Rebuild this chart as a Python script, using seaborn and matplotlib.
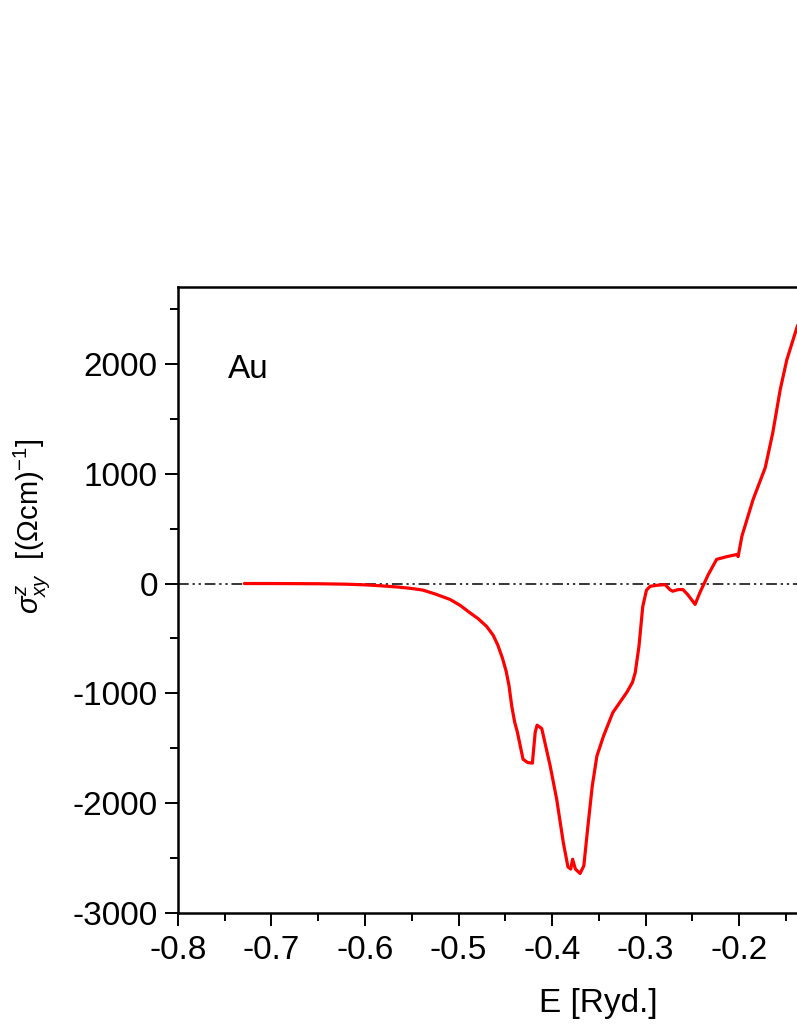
import numpy as np
import pandas as pd
import matplotlib
matplotlib.use("Agg")
import matplotlib.pyplot as plt
import seaborn as sns
from matplotlib.ticker import MultipleLocator, FixedLocator

energy = [-0.729, -0.70, -0.65, -0.62, -0.60, -0.584, -0.565, -0.550, -0.538, -0.525,
          -0.509, -0.498, -0.488, -0.479, -0.470, -0.463, -0.458, -0.453, -0.449, -0.446,
          -0.443, -0.440, -0.437, -0.431, -0.426, -0.421, -0.418, -0.416, -0.411, -0.402,
          -0.395, -0.388, -0.383, -0.380, -0.378, -0.375, -0.370, -0.366, -0.362, -0.357,
          -0.352, -0.345, -0.335, -0.320, -0.314, -0.311, -0.307, -0.303, -0.299, -0.295,
          -0.287, -0.279, -0.274, -0.271, -0.265, -0.260, -0.255, -0.247, -0.242, -0.233,
          -0.224, -0.213, -0.202, -0.201, -0.197, -0.185, -0.172, -0.164, -0.156, -0.149,
          -0.138, -0.130]
sigma = [0, 0, -2, -6, -12, -20, -32, -45, -60, -95,
         -145, -200, -265, -320, -390, -470, -560, -680, -800, -930,
         -1120, -1260, -1355, -1600, -1630, -1635, -1355, -1290, -1320, -1660,
         -1965, -2355, -2580, -2600, -2510, -2600, -2640, -2570, -2240, -1845,
         -1570, -1390, -1175, -990, -900, -810, -570, -210, -60, -25,
         -15, -10, -55, -70, -55, -55, -100, -190, -85, 80,
         220, 245, 265, 245, 430, 765, 1055, 1370, 1765, 2035,
         2335, 2500]
x_major_ticks = [-0.8, -0.7, -0.6, -0.5, -0.4, -0.3, -0.2]
x_tick_labels = ["-0.8", "-0.7", "-0.6", "-0.5", "-0.4", "-0.3", "-0.2"]

df = pd.DataFrame({"E": energy, "sigma": sigma})

sns.set_style("ticks")
plt.rcParams["font.family"] = ["Liberation Sans", "DejaVu Sans"]
plt.rcParams["mathtext.fontset"] = "custom"
plt.rcParams["mathtext.rm"] = "Liberation Sans"
plt.rcParams["mathtext.it"] = "Liberation Sans:italic"
plt.rcParams["axes.unicode_minus"] = False
for k in ["text.color", "axes.labelcolor", "xtick.color", "ytick.color", "axes.edgecolor"]:
    plt.rcParams[k] = "black"

fig = plt.figure(figsize=(7.97, 10.32), dpi=100)
ax = fig.add_axes([0.2233, 0.1153, 1.056, 0.6066])

ax.axhline(0, color="black", lw=1.1, dashes=(7, 2.5, 1.5, 2.5, 1.5, 2.5), zorder=1)
sns.lineplot(data=df, x="E", y="sigma", ax=ax, color="#ff0000", lw=2.3, zorder=2)

ax.set_xlim(-0.8, 0.1)
ax.set_ylim(-3000, 2700)
ax.xaxis.set_major_locator(FixedLocator(x_major_ticks))
ax.set_xticklabels(x_tick_labels)
ax.xaxis.set_minor_locator(MultipleLocator(0.05))
ax.yaxis.set_major_locator(MultipleLocator(1000))
ax.yaxis.set_minor_locator(MultipleLocator(500))

ax.tick_params(which="major", direction="out", length=9.5, width=1.4, labelsize=24)
ax.tick_params(axis="x", which="major", pad=6)
ax.tick_params(axis="y", which="major", pad=5)
ax.tick_params(which="minor", direction="out", length=5.5, width=1.4)
for s in ax.spines.values():
    s.set_linewidth(1.8)

ax.set_xlabel("E [Ryd.]", fontsize=24, labelpad=16)
ax.set_ylabel(r"$\sigma^{z}_{xy}$  [($\Omega$cm)$^{-1}$]", fontsize=21)
ax.yaxis.set_label_coords(-0.1485, 0.617)
ax.text(-0.7465, 1945, "Au", fontsize=24, ha="left", va="center")

fig.savefig("out.png", dpi=100)
